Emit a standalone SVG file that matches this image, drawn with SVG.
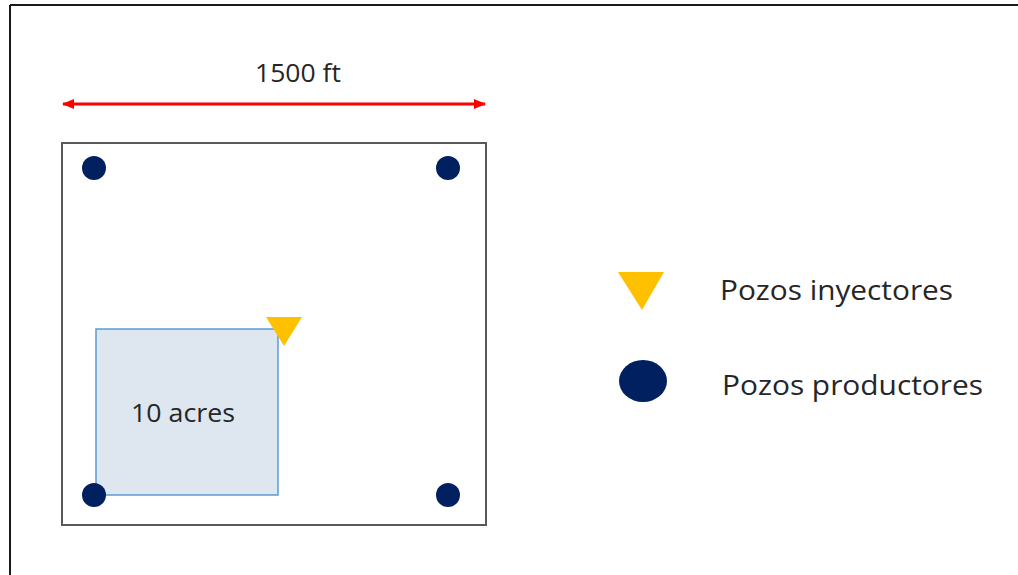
<svg xmlns="http://www.w3.org/2000/svg" width="1018" height="575" viewBox="0 0 1018 575">
<style>
.t{font-family:"Open Sans","Liberation Sans",sans-serif;fill:#262626}
.prod{fill:#002060}
.inj{fill:#ffc000}
</style>
<defs>
<marker id="ah" viewBox="0 0 12 10" refX="11" refY="5" markerWidth="12" markerHeight="10" markerUnits="userSpaceOnUse" orient="auto-start-reverse">
<path d="M0,0 L12,5 L0,10 Z" fill="#ff0000"/>
</marker>
</defs>
<rect width="1018" height="575" fill="#ffffff"/>
<g id="frame">
<line x1="10" y1="5" x2="1018" y2="5" stroke="#1a1a1a" stroke-width="2"/>
<line x1="10" y1="5" x2="10" y2="575" stroke="#1a1a1a" stroke-width="2"/>
</g>
<g id="field">
<rect x="62" y="143" width="424" height="382" fill="#ffffff" stroke="#595959" stroke-width="2"/>
</g>
<g id="pattern10">
<rect x="96" y="329" width="182" height="166" fill="#dee6ef" stroke="#5b9bd5" stroke-width="1.5"/>
<text class="t" x="183" y="422" font-size="26" text-anchor="middle" textLength="104" lengthAdjust="spacingAndGlyphs">10 acres</text>
</g>
<g id="connectors">
<line x1="63" y1="104" x2="485" y2="104" stroke="#ff0000" stroke-width="3" marker-start="url(#ah)" marker-end="url(#ah)"/>
</g>
<g id="dimlabel">
<text class="t" x="298" y="82" font-size="26" text-anchor="middle" textLength="86" lengthAdjust="spacingAndGlyphs">1500 ft</text>
</g>
<g id="wells">
<circle class="prod" cx="94" cy="168" r="12"/>
<circle class="prod" cx="448" cy="168" r="12"/>
<circle class="prod" cx="94" cy="495" r="12"/>
<circle class="prod" cx="448" cy="495" r="12"/>
<polygon class="inj" points="266,317 302,317 284,346"/>
</g>
<g id="legend-injector">
<polygon class="inj" points="618,272 664,272 642,310"/>
<text class="t" x="720" y="300" font-size="28" textLength="233" lengthAdjust="spacingAndGlyphs">Pozos inyectores</text>
</g>
<g id="legend-producer">
<ellipse class="prod" cx="643" cy="381" rx="24" ry="21"/>
<text class="t" x="722" y="395" font-size="28" textLength="261" lengthAdjust="spacingAndGlyphs">Pozos productores</text>
</g>
</svg>
